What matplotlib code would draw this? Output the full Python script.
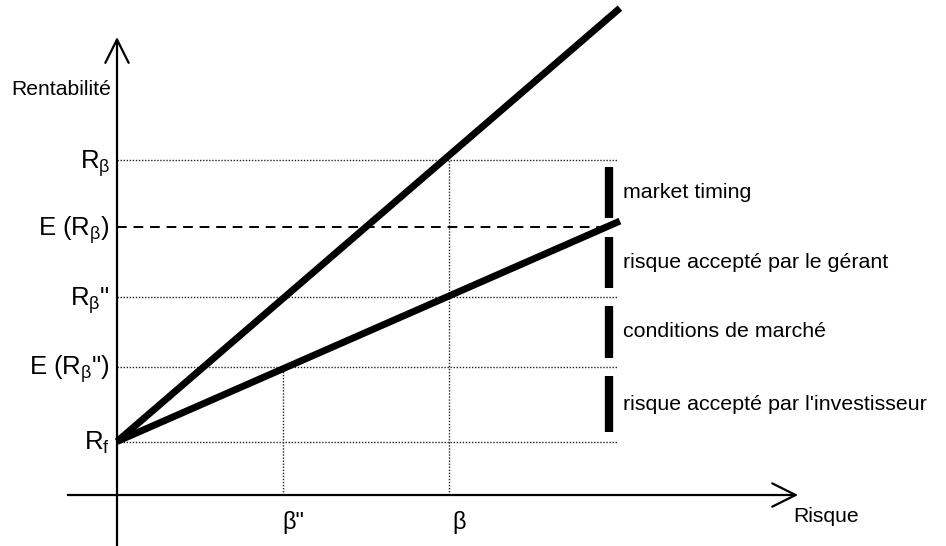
import matplotlib
matplotlib.use('Agg')
import matplotlib.pyplot as plt

plt.rcParams['font.family'] = ['Liberation Sans', 'DejaVu Sans']
plt.rcParams['mathtext.fontset'] = 'custom'
plt.rcParams['mathtext.rm'] = 'Liberation Sans'
plt.rcParams['mathtext.it'] = 'Liberation Sans:italic'
plt.rcParams['mathtext.bf'] = 'Liberation Sans:bold'

# return levels on the y axis (bottom to top): Rf, E(Rb''), Rb'', E(Rb), Rb
levels = [1.0, 2.4, 3.7, 5.0, 6.26]
level_labels = [r'$\mathrm{R}_{\mathrm{f}}$',
                r'E ($\mathrm{R}_{\mathrm{β}}$")',
                r'$\mathrm{R}_{\mathrm{β}}$"',
                r'E ($\mathrm{R}_{\mathrm{β}}$)',
                r'$\mathrm{R}_{\mathrm{β}}$']
level_style = ['dotted', 'dotted', 'dotted', 'dashed', 'dotted']

# betas on the x axis
betas = [3.1, 6.2]
beta_labels = ['β"', 'β']
beta_top = [2.4, 6.26]   # where the vertical dotted line stops

# the two market lines (start at Rf)
line_x = [0, 9.4]
steep_y = [1.0, 9.1]
flat_y = [1.0, 5.12]

# bars between two levels on the right
bar_texts = ["risque accepté par l'investisseur", 'conditions de marché',
             'risque accepté par le gérant', 'market timing']

fig = plt.figure(figsize=(9.46, 5.46), dpi=100)
ax = fig.add_axes([0, 0, 1, 1])
ax.set_xlim(-2.187, 15.495)
ax.set_ylim(-0.953, 9.252)
ax.axis('off')

# axes with open arrow heads
ax.annotate('', xy=(0, 8.56), xytext=(0, -0.953),
            arrowprops=dict(arrowstyle='->', lw=1.6, color='black', mutation_scale=42, shrinkA=0, shrinkB=0))
ax.annotate('', xy=(12.73, 0), xytext=(-0.92, 0),
            arrowprops=dict(arrowstyle='->', lw=1.6, color='black', mutation_scale=42, shrinkA=0, shrinkB=0))

# horizontal guide lines + labels
for lev, lab, st in zip(levels, level_labels, level_style):
    if st == 'dashed':
        ax.plot([0, 9.25], [lev, lev], color='black', lw=1.4, linestyle=(0, (5, 3.5)))
    else:
        ax.plot([0, 9.35], [lev, lev], color='#222222', lw=1.0, linestyle=(0, (1, 1.2)))
    ax.text(-0.13, lev - 0.16, lab, ha='right', va='baseline', fontsize=18.5)

# vertical guide lines + labels
for b, lab, top in zip(betas, beta_labels, beta_top):
    ax.plot([b, b], [0, top], color='#222222', lw=1.0, linestyle=(0, (1, 1.2)))
    ax.text(b + 0.2, -0.52, lab, ha='center', va='center', fontsize=17)

# market lines
ax.plot(line_x, steep_y, color='black', lw=5, solid_capstyle='butt')
ax.plot(line_x, flat_y, color='black', lw=5, solid_capstyle='butt')

# bars + texts
for i, t in enumerate(bar_texts):
    lo = levels[i] + 0.17
    hi = levels[i + 1] - 0.17
    if i == 3:
        hi = levels[4] - 0.13
    ax.plot([9.2, 9.2], [lo, hi], color='black', lw=6, solid_capstyle='butt')
    ax.text(9.46, (lo + hi) / 2, t, ha='left', va='center', fontsize=15.4)

ax.text(-0.11, 7.57, 'Rentabilité', ha='right', va='center', fontsize=15.2)
ax.text(12.64, -0.41, 'Risque', ha='left', va='center', fontsize=15.2)

plt.savefig('out.png', dpi=100)
